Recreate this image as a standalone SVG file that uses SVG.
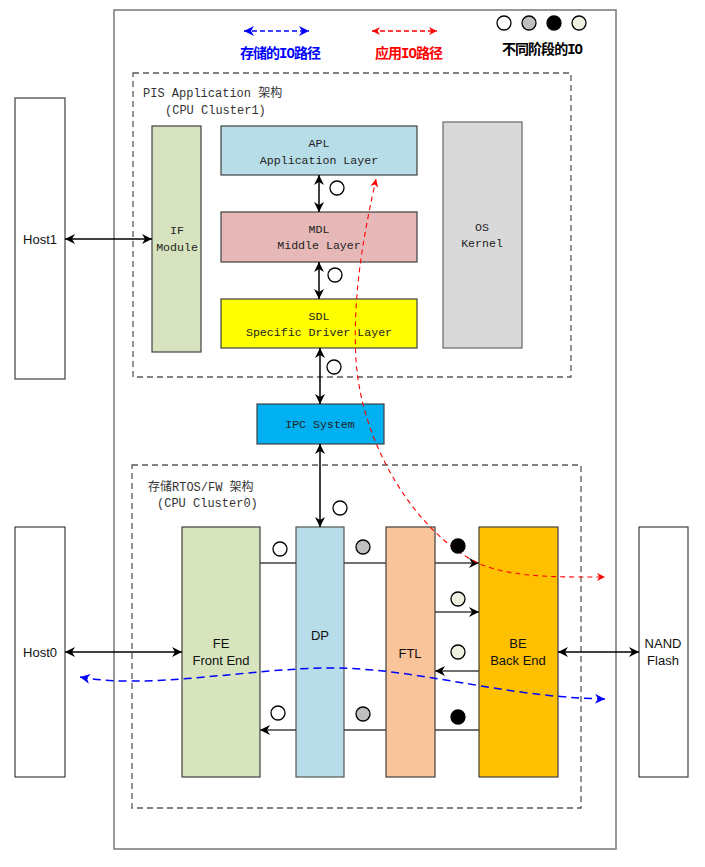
<svg xmlns="http://www.w3.org/2000/svg" width="705" height="867" viewBox="0 0 705 867">
<defs>
<style>
.box{stroke:#404040;stroke-width:1.2}
.outer{fill:#fff;stroke:#7f7f7f;stroke-width:1.6}
.dash{fill:none;stroke:#595959;stroke-width:1.3;stroke-dasharray:6 4}
.mono{font-family:"Liberation Mono","Noto Sans CJK SC",monospace;font-size:11.6px;fill:#222;text-anchor:middle}
.hdr{font-family:"Liberation Mono","Noto Sans CJK SC",monospace;font-size:12px;fill:#333}
.sans{font-family:"Liberation Sans",Arial,sans-serif;font-size:13px;fill:#111;text-anchor:middle}
.leg{font-family:"Liberation Mono","Noto Sans CJK SC",monospace;font-size:14px;font-weight:bold}
.conn{stroke:#000;stroke-width:1.5;fill:none}
.row{stroke:#404040;stroke-width:1.5;fill:none}
.io{stroke:#000;stroke-width:1.3}
</style>
<marker id="ah" viewBox="0 0 10 10" refX="10" refY="5" markerWidth="11" markerHeight="10" markerUnits="userSpaceOnUse" orient="auto-start-reverse">
<path d="M0,0 L10,5 L0,10 L3,5 z" fill="#000"/>
</marker>
<marker id="ahr" viewBox="0 0 10 10" refX="10" refY="5" markerWidth="10" markerHeight="8" markerUnits="userSpaceOnUse" orient="auto-start-reverse">
<path d="M0,0 L10,5 L0,10 L3,5 z" fill="#ff0000"/>
</marker>
<marker id="ahb" viewBox="0 0 10 10" refX="10" refY="5" markerWidth="12" markerHeight="10" markerUnits="userSpaceOnUse" orient="auto-start-reverse">
<path d="M0,0 L10,5 L0,10 L3,5 z" fill="#0000ff"/>
</marker>
</defs>
<rect width="705" height="867" fill="#fff"/>
<rect class="outer" x="114" y="10" width="502" height="839"/>

<g id="legend">
<line x1="244" y1="31" x2="309" y2="31" stroke="#0000ff" stroke-width="1.3" stroke-dasharray="5 3" marker-start="url(#ahb)" marker-end="url(#ahb)"/>
<text class="leg" x="240" y="58" fill="#0000ff" textLength="81" lengthAdjust="spacing">存储的IO路径</text>
<line x1="372" y1="31" x2="437" y2="31" stroke="#ff0000" stroke-width="1.3" stroke-dasharray="5 3" marker-start="url(#ahr)" marker-end="url(#ahr)"/>
<text class="leg" x="375" y="58" fill="#ff0000" textLength="68" lengthAdjust="spacing">应用IO路径</text>
<circle class="io" cx="504" cy="23" r="7" fill="#fff"/>
<circle class="io" cx="529" cy="23" r="7" fill="#bfbfbf"/>
<circle class="io" cx="554" cy="23" r="7" fill="#000"/>
<circle class="io" cx="579" cy="23" r="7" fill="#ebf1de"/>
<text class="leg" x="502" y="54" fill="#000" textLength="81" lengthAdjust="spacing">不同阶段的IO</text>
</g>

<g id="pis-group">
<rect class="dash" x="133" y="73" width="438" height="304"/>
<text class="hdr" x="143" y="97">PIS Application 架构</text>
<text class="hdr" x="165" y="114">(CPU Cluster1)</text>
</g>

<g id="storage-group">
<rect class="dash" x="132" y="465" width="449" height="343"/>
<text class="hdr" x="148" y="491">存储RTOS/FW 架构</text>
<text class="hdr" x="157" y="507">(CPU Cluster0)</text>
</g>

<g id="host1">
<rect class="box" x="15" y="98" width="50" height="281" fill="#fff"/>
<text class="sans" x="40" y="244">Host1</text>
</g>
<g id="if-module">
<rect class="box" x="152" y="126" width="49" height="226" fill="#d7e3bf"/>
<text class="mono" x="177" y="234">IF</text>
<text class="mono" x="177" y="251">Module</text>
</g>
<g id="apl">
<rect class="box" x="221" y="126" width="196" height="49" fill="#b7dde8"/>
<text class="mono" x="319" y="147">APL</text>
<text class="mono" x="319" y="164">Application Layer</text>
</g>
<g id="mdl">
<rect class="box" x="221" y="212" width="196" height="50" fill="#e6b9b8"/>
<text class="mono" x="319" y="233">MDL</text>
<text class="mono" x="319" y="249">Middle Layer</text>
</g>
<g id="sdl">
<rect class="box" x="221" y="299" width="196" height="49" fill="#ffff00"/>
<text class="mono" x="319" y="320">SDL</text>
<text class="mono" x="319" y="336">Specific Driver Layer</text>
</g>
<g id="os-kernel">
<rect x="443" y="122" width="79" height="226" fill="#d9d9d9" stroke="#666" stroke-width="1.2"/>
<text class="mono" x="482" y="231">OS</text>
<text class="mono" x="482" y="247">Kernel</text>
</g>
<g id="ipc">
<rect class="box" x="257" y="404" width="127" height="40" fill="#00b0f0"/>
<text class="mono" x="320" y="428">IPC System</text>
</g>

<g id="host0">
<rect class="box" x="15" y="527" width="50" height="250" fill="#fff"/>
<text class="sans" x="40" y="657">Host0</text>
</g>
<g id="fe">
<rect class="box" x="182" y="527" width="78" height="250" fill="#d7e4bd"/>
<text class="sans" x="221" y="648">FE</text>
<text class="sans" x="221" y="665">Front End</text>
</g>
<g id="dp">
<rect x="296" y="527" width="48" height="250" fill="#b7dde8" stroke="#555" stroke-width="1.2"/>
<text class="sans" x="320" y="640">DP</text>
</g>
<g id="ftl">
<rect class="box" x="386" y="527" width="49" height="250" fill="#f9c49a"/>
<text class="sans" x="410" y="658">FTL</text>
</g>
<g id="be">
<rect class="box" x="479" y="527" width="79" height="250" fill="#ffc000"/>
<text class="sans" x="518" y="648">BE</text>
<text class="sans" x="518" y="665">Back End</text>
</g>
<g id="nand">
<rect class="box" x="639" y="527" width="49" height="250" fill="#fff"/>
<text class="sans" x="663" y="648">NAND</text>
<text class="sans" x="663" y="665">Flash</text>
</g>

<g id="connectors">
<line class="conn" x1="65" y1="239" x2="152" y2="239" marker-start="url(#ah)" marker-end="url(#ah)"/>
<line class="conn" x1="319" y1="175" x2="319" y2="212" marker-start="url(#ah)" marker-end="url(#ah)"/>
<line class="conn" x1="319" y1="262" x2="319" y2="299" marker-start="url(#ah)" marker-end="url(#ah)"/>
<line class="conn" x1="320" y1="348" x2="320" y2="404" marker-start="url(#ah)" marker-end="url(#ah)"/>
<line class="conn" x1="320" y1="444" x2="320" y2="527" marker-start="url(#ah)" marker-end="url(#ah)"/>
<line class="conn" x1="65" y1="652" x2="182" y2="652" marker-start="url(#ah)" marker-end="url(#ah)"/>
<line class="conn" x1="558" y1="652" x2="639" y2="652" marker-start="url(#ah)" marker-end="url(#ah)"/>
<line class="row" x1="260" y1="563" x2="296" y2="563"/>
<line class="row" x1="344" y1="563" x2="386" y2="563"/>
<line class="row" x1="435" y1="563" x2="479" y2="563" marker-end="url(#ah)"/>
<line class="row" x1="435" y1="612" x2="479" y2="612" marker-end="url(#ah)"/>
<line class="row" x1="479" y1="671" x2="435" y2="671" marker-end="url(#ah)"/>
<line class="row" x1="479" y1="730" x2="435" y2="730"/>
<line class="row" x1="386" y1="730" x2="344" y2="730"/>
<line class="row" x1="296" y1="730" x2="260" y2="730" marker-end="url(#ah)"/>
<path d="M376,179 C366,225 352,290 356,360 C362,450 420,535 478,563 C510,578 560,577 605,577" fill="none" stroke="#ff0000" stroke-width="1.1" stroke-dasharray="5 4" marker-start="url(#ahr)" marker-end="url(#ahr)"/>
<path d="M80,677 C150,690 250,668 330,668 C420,668 500,697 605,699" fill="none" stroke="#0000ff" stroke-width="1.5" stroke-dasharray="8 5" marker-start="url(#ahb)" marker-end="url(#ahb)"/>
</g>

<g id="io-markers">
<circle class="io" cx="337" cy="188" r="7" fill="#fff"/>
<circle class="io" cx="335" cy="275" r="7" fill="#fff"/>
<circle class="io" cx="334" cy="367" r="7" fill="#fff"/>
<circle class="io" cx="340" cy="508" r="7" fill="#fff"/>
<circle class="io" cx="280" cy="549" r="7" fill="#fff"/>
<circle class="io" cx="363" cy="547" r="7" fill="#bfbfbf"/>
<circle class="io" cx="458" cy="546" r="7" fill="#000"/>
<circle class="io" cx="458" cy="599" r="7" fill="#ebf1de"/>
<circle class="io" cx="458" cy="652" r="7" fill="#ebf1de"/>
<circle class="io" cx="278" cy="713" r="7" fill="#fff"/>
<circle class="io" cx="363" cy="714" r="7" fill="#bfbfbf"/>
<circle class="io" cx="458" cy="717" r="7" fill="#000"/>
</g>
</svg>
